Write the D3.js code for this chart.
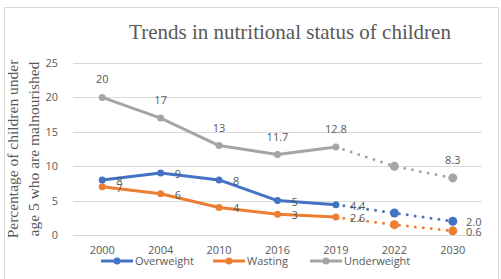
<!DOCTYPE html>
<html>
<head>
<meta charset="utf-8">
<script src="https://cdn.jsdelivr.net/npm/d3@7"></script>
<style>
  body { margin: 0; background: #fff; }
  text { fill: #595959; }
</style>
</head>
<body>
<svg id="chart" width="501" height="279"></svg>
<script>
// data
var years = ["2000", "2004", "2010", "2016", "2019", "2022", "2030"];
var overweight = [8, 9, 8, 5, 4.4, 3.2, 2.0];
var wasting = [7, 6, 4, 3, 2.6, 1.5, 0.6];
var underweight = [20, 17, 13, 11.7, 12.8, 10, 8.3];
var overweightLabels = ["8", "9", "8", "5", "4.4", "", "2.0"];
var wastingLabels = ["7", "6", "4", "3", "2.6", "", "0.6"];
var underweightLabels = ["20", "17", "13", "11.7", "12.8", "", "8.3"];
var yTicks = [0, 5, 10, 15, 20, 25];
var lastActual = 4; // index of 2019, after that the projection is dotted

var svg = d3.select("#chart");

// chart frame
svg.append("rect")
    .attr("x", 4.5).attr("y", 7.5)
    .attr("width", 494).attr("height", 272)
    .attr("fill", "none")
    .attr("stroke", "#d9d9d9");

var x = d3.scaleBand()
    .domain(years)
    .range([73, 482]);

var y = d3.scaleLinear()
    .domain([0, 25])
    .range([235, 63]);

function cx(i) { return x(years[i]) + x.bandwidth() / 2; }

// gridlines
svg.append("g")
    .selectAll("line")
    .data(yTicks)
    .enter()
    .append("line")
    .attr("x1", 73).attr("x2", 482)
    .attr("y1", function(d) { return Math.round(y(d)) + 0.5; })
    .attr("y2", function(d) { return Math.round(y(d)) + 0.5; })
    .attr("stroke", "#d9d9d9")
    .attr("stroke-width", 1);

// y tick labels
svg.append("g")
    .selectAll("text")
    .data(yTicks)
    .enter()
    .append("text")
    .attr("x", 58)
    .attr("y", function(d) { return y(d) + 4; })
    .attr("text-anchor", "end")
    .style("font-family", "Open Sans, sans-serif")
    .style("font-size", "11px")
    .text(function(d) { return d; });

// x tick labels
svg.append("g")
    .selectAll("text")
    .data(years)
    .enter()
    .append("text")
    .attr("x", function(d, i) { return cx(i); })
    .attr("y", 254)
    .attr("text-anchor", "middle")
    .style("font-family", "Open Sans, sans-serif")
    .style("font-size", "11px")
    .text(function(d) { return d; });

// title
svg.append("text")
    .attr("x", 290).attr("y", 39)
    .attr("text-anchor", "middle")
    .style("font-family", "Liberation Serif, serif")
    .style("font-size", "21px")
    .text("Trends in nutritional status of children");

// y axis title
var yTitle = svg.append("text")
    .attr("transform", "translate(18,149) rotate(-90)")
    .attr("text-anchor", "middle")
    .style("font-family", "Liberation Serif, serif")
    .style("font-size", "15.5px");
yTitle.append("tspan").attr("x", 0).attr("dy", 0).text("Percentage of children under");
yTitle.append("tspan").attr("x", 0).attr("dy", 21).text("age 5 who are malnourished");

var series = [
    { name: "Overweight", values: overweight, labels: overweightLabels, color: "#4472C4", pos: "right" },
    { name: "Wasting", values: wasting, labels: wastingLabels, color: "#ED7D31", pos: "right" },
    { name: "Underweight", values: underweight, labels: underweightLabels, color: "#A5A5A5", pos: "above" }
];

var line = d3.line()
    .x(function(d) { return cx(d.i); })
    .y(function(d) { return y(d.v); });

// draw underweight first so the others sit on top
series.slice().reverse().forEach(function(s) {
    var pts = s.values.map(function(v, i) { return { v: v, i: i }; });
    var g = svg.append("g");

    g.append("path")
        .datum(pts.slice(0, lastActual + 1))
        .attr("d", line)
        .attr("fill", "none")
        .attr("stroke", s.color)
        .attr("stroke-width", 3)
        .attr("stroke-linejoin", "round");

    g.append("path")
        .datum(pts.slice(lastActual))
        .attr("d", line)
        .attr("fill", "none")
        .attr("stroke", s.color)
        .attr("stroke-width", 3)
        .attr("stroke-linecap", "round")
        .style("stroke-dasharray", "0,8");

    g.selectAll("circle")
        .data(pts)
        .enter()
        .append("circle")
        .attr("cx", function(d) { return cx(d.i); })
        .attr("cy", function(d) { return y(d.v); })
        .attr("r", function(d) { return d.i > lastActual ? 4.5 : 3.5; })
        .attr("fill", s.color);

    g.selectAll("text")
        .data(pts)
        .enter()
        .append("text")
        .attr("x", function(d) { return s.pos === "above" ? cx(d.i) : cx(d.i) + (d.i === 6 ? 21 : 14); })
        .attr("y", function(d) { return s.pos === "above" ? y(d.v) - 14 : y(d.v) + 5; })
        .attr("text-anchor", function(d) { return s.pos === "above" ? "middle" : (d.i === 6 ? "middle" : "start"); })
        .style("font-family", "Open Sans, sans-serif")
        .style("font-size", "11px")
        .text(function(d) { return s.labels[d.i]; });
});

// legend
var legendX = [101, 213, 310];
series.forEach(function(s, k) {
    var lg = svg.append("g").attr("transform", "translate(" + legendX[k] + ",261)");
    lg.append("line")
        .attr("x1", 0).attr("x2", 32)
        .attr("y1", 0).attr("y2", 0)
        .attr("stroke", s.color)
        .attr("stroke-width", 3);
    lg.append("circle").attr("cx", 16).attr("cy", 0).attr("r", 3.5).attr("fill", s.color);
    lg.append("text")
        .attr("x", 34).attr("y", 4)
        .style("font-family", "Open Sans, sans-serif")
        .style("font-size", "11px")
        .text(s.name);
});
</script>
</body>
</html>
